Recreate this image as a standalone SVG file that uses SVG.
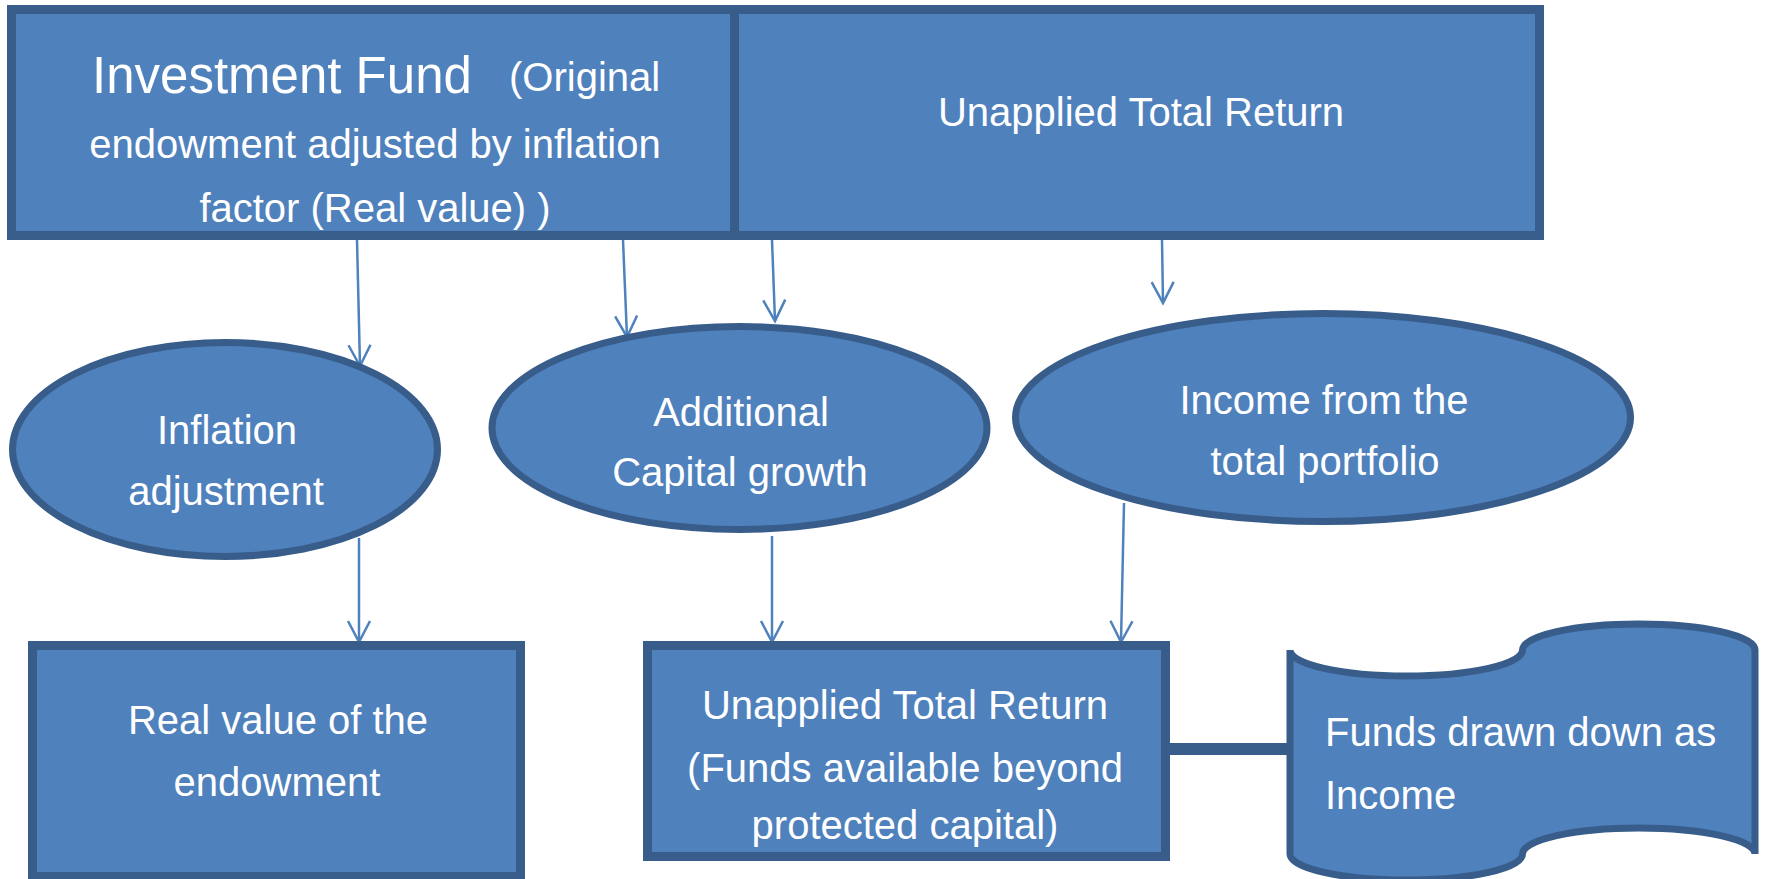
<svg xmlns="http://www.w3.org/2000/svg" width="1768" height="879" viewBox="0 0 1768 879">
<style>
.shape{fill:#4F81BD;stroke:#385D8A;}
.t{font-family:"Liberation Sans",Arial,sans-serif;font-size:40px;fill:#FFFFFF;}
.c{text-anchor:middle;}
.arrow{fill:none;stroke:#4F81BD;stroke-width:2.5;marker-end:url(#ah);}
</style>
<defs>
<marker id="ah" markerUnits="userSpaceOnUse" viewBox="-24 -14 28 28" refX="0" refY="0" markerWidth="28" markerHeight="28" orient="auto">
<path d="M-21,-11 L0,0 L-21,11" fill="none" stroke="#4F81BD" stroke-width="2.5"/>
</marker>
</defs>
<rect width="1768" height="879" fill="#FFFFFF"/>

<g id="connectors">
<line class="arrow" x1="357" y1="240" x2="360" y2="366"/>
<line class="arrow" x1="623" y1="240" x2="627" y2="337"/>
<line class="arrow" x1="772" y1="240" x2="775" y2="321"/>
<line class="arrow" x1="1162" y1="240" x2="1163" y2="303"/>
<line class="arrow" x1="359" y1="538" x2="359" y2="642"/>
<line class="arrow" x1="772" y1="536" x2="772" y2="642"/>
<line class="arrow" x1="1124" y1="503" x2="1121" y2="642"/>
<line x1="1166" y1="749" x2="1290" y2="749" stroke="#385D8A" stroke-width="12"/>
</g>

<g id="investment-fund">
<rect class="shape" x="11.5" y="9.5" width="723" height="226" stroke-width="9"/>
<text class="t" x="92" y="93" style="font-size:51px">Investment Fund</text>
<text class="t" x="509" y="91">(Original</text>
<text class="t c" x="375" y="158">endowment adjusted by inflation</text>
<text class="t c" x="375" y="222">factor (Real value) )</text>
</g>

<g id="unapplied-top">
<rect class="shape" x="734.5" y="9.5" width="805" height="226" stroke-width="9"/>
<text class="t c" x="1141" y="126">Unapplied Total Return</text>
</g>

<g id="inflation-adjustment">
<ellipse class="shape" cx="225" cy="449.5" rx="212.5" ry="107" stroke-width="7"/>
<text class="t c" x="227" y="444">Inflation</text>
<text class="t c" x="226" y="505">adjustment</text>
</g>

<g id="additional-capital">
<ellipse class="shape" cx="739.5" cy="428" rx="247.5" ry="101.5" stroke-width="7"/>
<text class="t c" x="741" y="426">Additional</text>
<text class="t c" x="740" y="486">Capital growth</text>
</g>

<g id="income-portfolio">
<ellipse class="shape" cx="1323" cy="417.5" rx="307.5" ry="104" stroke-width="7"/>
<text class="t c" x="1324" y="414">Income from the</text>
<text class="t c" x="1325" y="475">total portfolio</text>
</g>

<g id="real-value">
<rect class="shape" x="32.5" y="645.5" width="488" height="231" stroke-width="9"/>
<text class="t c" x="278" y="734">Real value of the</text>
<text class="t c" x="277" y="796">endowment</text>
</g>

<g id="unapplied-bottom">
<rect class="shape" x="647.5" y="645.5" width="518" height="211" stroke-width="9"/>
<text class="t c" x="905" y="719">Unapplied Total Return</text>
<text class="t c" x="905" y="782">(Funds available beyond</text>
<text class="t c" x="905" y="839">protected capital)</text>
</g>

<g id="funds-drawn">
<path class="shape" stroke-width="7" d="M1290,650 A116.25,26 0 0 0 1522.5,650 A116.25,26 0 0 1 1755,650 L1755,854 A116.25,26 0 0 0 1522.5,854 A116.25,26 0 0 1 1290,854 Z"/>
<text class="t" x="1325" y="746">Funds drawn down as</text>
<text class="t" x="1325" y="809">Income</text>
</g>
</svg>
